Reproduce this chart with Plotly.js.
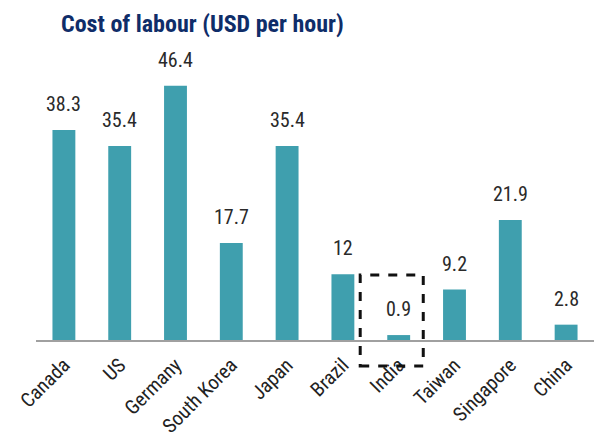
<!DOCTYPE html>
<html>
<head>
<meta charset="utf-8">
<script src="https://cdn.plot.ly/plotly-3.0.1.min.js"></script>
<style>html,body{margin:0;padding:0;background:#fff;}#chart{width:594px;height:443px;}</style>
</head>
<body>
<div id="chart"></div>
<script>
var categories = ["Canada", "US", "Germany", "South Korea", "Japan", "Brazil", "India", "Taiwan", "Singapore", "China"];
var costPerHour = [38.3, 35.4, 46.4, 17.7, 35.4, 12, 0.9, 9.2, 21.9, 2.8];
var valueLabels = ["38.3", "35.4", "46.4", "17.7", "35.4", "12", "0.9", "9.2", "21.9", "2.8"];
var highlighted = "India";

var FONT = '"Roboto Condensed", "Liberation Sans Narrow", "DejaVu Sans Condensed", Roboto, sans-serif';

var trace = {
  type: "bar",
  x: categories,
  y: costPerHour,
  marker: {color: "#3f9fae"},
  width: 0.41,
  hoverinfo: "x+y"
};

var annotations = categories.map(function (c, i) {
  return {
    x: c, y: costPerHour[i], xref: "x", yref: "y",
    text: valueLabels[i], showarrow: false,
    yanchor: "bottom", yshift: 12,
    font: {family: FONT, size: 20, color: "#2a2a2a"}
  };
});

var hi = categories.indexOf(highlighted);

var layout = {
  width: 594, height: 443,
  margin: {l: 36, r: 0, t: 66, b: 103},
  paper_bgcolor: "#ffffff", plot_bgcolor: "#ffffff",
  showlegend: false,
  title: {
    text: "<b>Cost of labour (USD per hour)</b>",
    x: 61 / 594, xanchor: "left", xref: "container",
    y: 1 - 24 / 443, yanchor: "middle", yref: "container",
    font: {family: FONT, size: 24, color: "#0f2d69"}
  },
  xaxis: {
    type: "category",
    range: [-0.5, 9.5],
    showline: true, linecolor: "#a0a0a0", linewidth: 1.5,
    ticks: "", showgrid: false, zeroline: false,
    tickangle: -45,
    ticklabelstandoff: 4,
    tickfont: {family: FONT, size: 20, color: "#222222"}
  },
  yaxis: {
    range: [0, 50],
    visible: false, showgrid: false, zeroline: false
  },
  annotations: annotations,
  shapes: [{
    type: "rect", xref: "x", yref: "paper",
    x0: hi - 0.69, x1: hi + 0.44, y0: -0.095, y1: 0.237,
    line: {color: "#111111", width: 3, dash: "dash"},
    fillcolor: "rgba(0,0,0,0)",
    layer: "above"
  }]
};

Plotly.newPlot("chart", [trace], layout, {displayModeBar: false, staticPlot: true});
</script>
</body>
</html>
